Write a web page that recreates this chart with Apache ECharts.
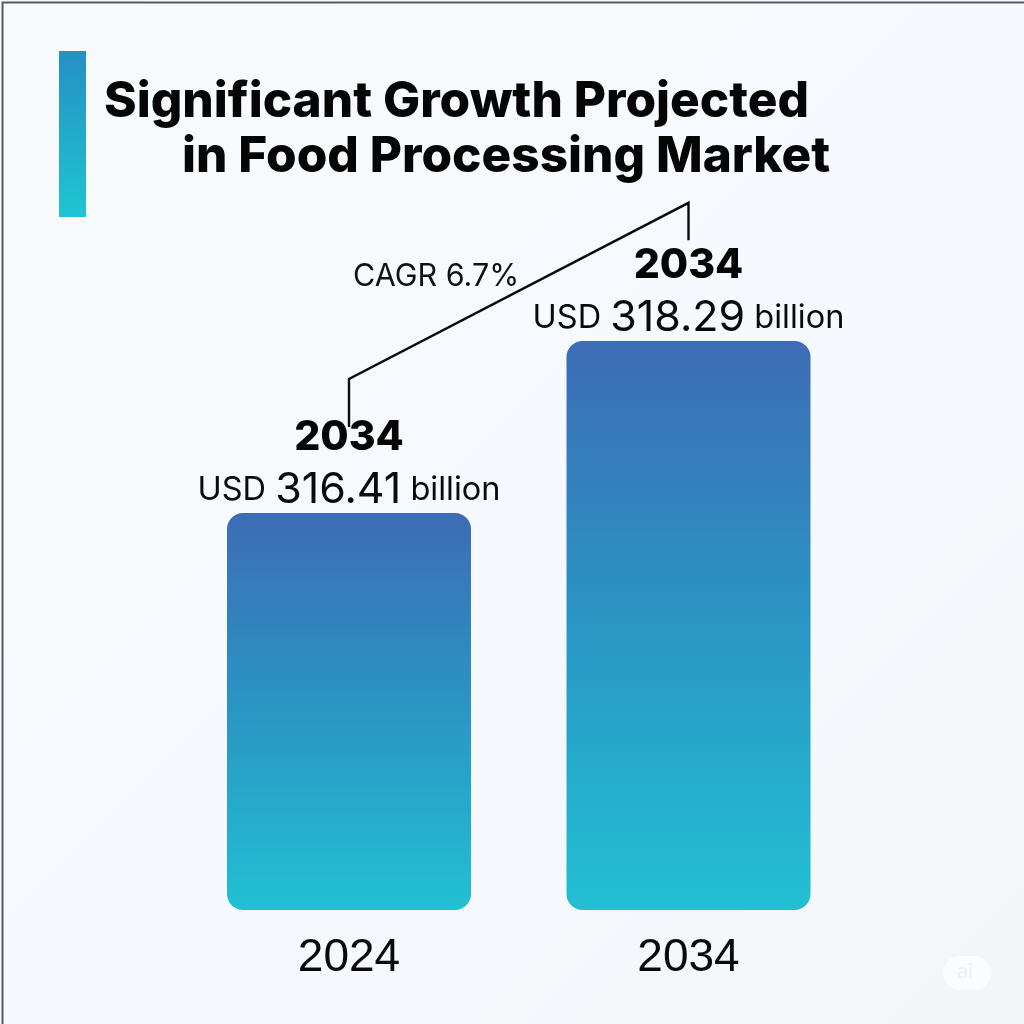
<!DOCTYPE html>
<html>
<head>
<meta charset="utf-8">
<title>Food Processing Market</title>
<script src="https://cdn.jsdelivr.net/npm/echarts@6/dist/echarts.min.js"></script>
<style>
html,body{margin:0;padding:0;background:#f6fafd;}
#main{width:1024px;height:1024px;}
</style>
</head>
<body>
<div id="main"></div>
<script>
// data
var categories = ['2024', '2034'];
var values = [316.41, 318.29];
var labelYears = ['2034', '2034'];
var titleLines = ['Significant Growth Projected', 'in Food Processing Market'];
var cagrText = 'CAGR 6.7%';
// connector path, [category index, value on the y axis]
var connector = [[0, 317.35], [0, 317.875], [1, 319.8], [1, 319.39]];

var chart = echarts.init(document.getElementById('main'));

function barGradient(){
	return new echarts.graphic.LinearGradient(0, 0, 0, 1, [
		{offset: 0, color: '#3d6cb5'},
		{offset: 0.5, color: '#2a96c4'},
		{offset: 1, color: '#22c0d3'}
	]);
}

chart.setOption({
	animation: false,
	backgroundColor: new echarts.graphic.LinearGradient(0, 0, 1, 1, [
		{offset: 0, color: '#f8fbfd'},
		{offset: 0.5, color: '#f6fafe'},
		{offset: 1, color: '#f3f6f9'}
	]),
	title: [
		{text: titleLines[0], left: 99, top: 72, textStyle: {fontFamily: 'Inter', fontWeight: 800, fontSize: 49.5, color: '#050505'}},
		{text: titleLines[1], left: 177, top: 127, textStyle: {fontFamily: 'Inter', fontWeight: 800, fontSize: 49.5, color: '#050505'}}
	],
	grid: {left: 179.25, right: 165.75, top: 100, bottom: 114},
	xAxis: {
		type: 'category',
		data: categories,
		axisLine: {show: false},
		axisTick: {show: false},
		axisLabel: {fontFamily: 'Liberation Sans', fontSize: 46, color: '#0a0a0a', margin: 25}
	},
	yAxis: {
		type: 'value',
		min: 312.071,
		max: 320.924,
		show: false,
		splitLine: {show: false}
	},
	series: [
		{
			type: 'bar',
			barWidth: 244,
			data: values,
			itemStyle: {color: barGradient(), borderRadius: 16},
			label: {
				show: true,
				position: 'top',
				distance: 1,
				formatter: function(p){
					return '{year|' + labelYears[p.dataIndex] + '}\n{unit|USD }{num|' + p.value.toFixed(2) + '}{unit| billion}';
				},
				rich: {
					year: {fontFamily: 'Inter', fontWeight: 800, fontSize: 41, color: '#050505', lineHeight: 60, align: 'center'},
					num: {fontFamily: 'Inter', fontSize: 43, color: '#0a0a0a', lineHeight: 44},
					unit: {fontFamily: 'Inter', fontSize: 32.5, color: '#0a0a0a', lineHeight: 44}
				}
			}
		},
		{
			type: 'custom',
			silent: true,
			data: connector,
			renderItem: function(params, api){
				if(params.dataIndex !== 0) return null;
				var pts = connector.map(function(c){ return api.coord(c); });
				return {
					type: 'polyline',
					shape: {points: pts},
					style: {fill: null, stroke: '#0a0a0a', lineWidth: 2.4}
				};
			},
			z: 1
		}
	],
	graphic: [
		{type: 'rect', left: 59, top: 51, z: 5, shape: {width: 27, height: 166},
			style: {fill: new echarts.graphic.LinearGradient(0, 0, 0, 1, [
				{offset: 0, color: '#2590c4'},
				{offset: 1, color: '#1fc5d2'}
			])}},
		{type: 'text', left: 353, top: 261, z: 5,
			style: {text: cagrText, fontFamily: 'Inter', fontSize: 30.5, fill: '#111'}},
		{type: 'rect', left: 943, top: 956, z: 5, shape: {width: 48, height: 34, r: 17}, style: {fill: '#fbfcfe'}},
		{type: 'text', left: 957, top: 962, z: 6, style: {text: 'ai', fontFamily: 'Inter', fontSize: 20, fill: '#eef1f4'}},
		{type: 'rect', left: 0, top: 0, z: 7, silent: true, shape: {width: 1024, height: 1024},
			style: {fill: null, stroke: '#555b60', lineWidth: 2}}
	]
});
</script>
</body>
</html>
